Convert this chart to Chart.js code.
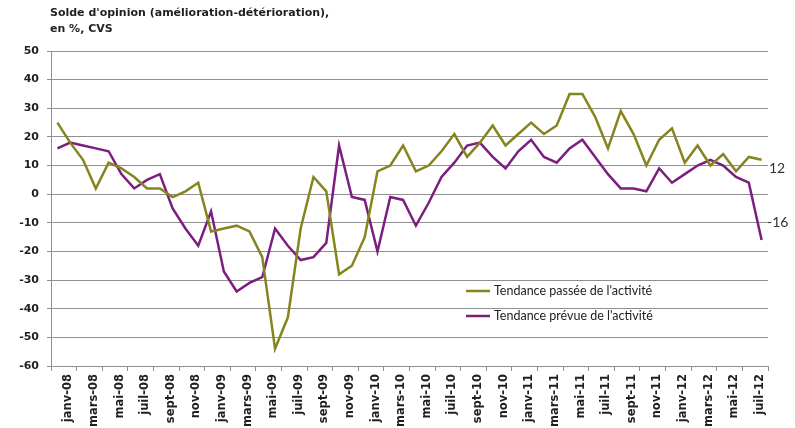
<!DOCTYPE html>
<html>
<head>
<meta charset="utf-8">
<script src="https://cdn.jsdelivr.net/npm/chart.js@4.4.0/dist/chart.umd.min.js"></script>
<style>
  html, body { margin: 0; padding: 0; background: #ffffff; }
  canvas { display: block; }
</style>
</head>
<body>
<canvas id="chart" width="795" height="428"></canvas>
<script>
// Monthly survey balances, janv-08 to août-12
const mois = [
  "janv-08", "févr-08", "mars-08", "avr-08", "mai-08", "juin-08", "juil-08", "août-08", "sept-08", "oct-08", "nov-08", "déc-08",
  "janv-09", "févr-09", "mars-09", "avr-09", "mai-09", "juin-09", "juil-09", "août-09", "sept-09", "oct-09", "nov-09", "déc-09",
  "janv-10", "févr-10", "mars-10", "avr-10", "mai-10", "juin-10", "juil-10", "août-10", "sept-10", "oct-10", "nov-10", "déc-10",
  "janv-11", "févr-11", "mars-11", "avr-11", "mai-11", "juin-11", "juil-11", "août-11", "sept-11", "oct-11", "nov-11", "déc-11",
  "janv-12", "févr-12", "mars-12", "avr-12", "mai-12", "juin-12", "juil-12", "août-12"
];

const tendancePassee = [
  25, 18, 12, 2, 11, 9, 6, 2, 2, -1, 1, 4,
  -13, -12, -11, -13, -22, -54, -43, -12, 6, 1, -28, -25,
  -15, 8, 10, 17, 8, 10, 15, 21, 13, 18, 24, 17,
  21, 25, 21, 24, 35, 35, 27, 16, 29, 21, 10, 19,
  23, 11, 17, 10, 14, 8, 13, 12
];

const tendancePrevue = [
  16, 18, 17, 16, 15, 7, 2, 5, 7, -5, -12, -18,
  -6, -27, -34, -31, -29, -12, -18, -23, -22, -17, 17, -1,
  -2, -20, -1, -2, -11, -3, 6, 11, 17, 18, 13, 9,
  15, 19, 13, 11, 16, 19, 13, 7, 2, 2, 1, 9,
  4, 7, 10, 12, 10, 6, 4, -16
];

const nomsSeries = ["Tendance passée de l'activité", "Tendance prévue de l'activité"];
const titre = ["Solde d'opinion (amélioration-détérioration),", "en %, CVS"];
const yMin = -60, yMax = 50, yPas = 10;

const OLIVE = '#85841f';
const VIOLET = '#7b1e7f';
const GRILLE = '#8f8f8f';
const TEXTE = '#1f1f1f';

// Title, in-plot legend and end-of-line value labels
const habillage = {
  id: 'habillage',
  afterDraw(chart) {
    const { ctx, chartArea } = chart;
    ctx.save();

    ctx.fillStyle = TEXTE;
    ctx.font = 'bold 11px "DejaVu Sans", sans-serif';
    ctx.textAlign = 'left';
    ctx.textBaseline = 'alphabetic';
    ctx.fillText(titre[0], 50, 16);
    ctx.fillText(titre[1], 50, 32);

    const entrees = [
      { label: nomsSeries[0], color: OLIVE },
      { label: nomsSeries[1], color: VIOLET }
    ];
    ctx.font = '12.5px Lato, "Open Sans", sans-serif';
    ctx.textBaseline = 'middle';
    entrees.forEach((e, k) => {
      const y = 291 + 25 * k;
      ctx.strokeStyle = e.color;
      ctx.lineWidth = 2.5;
      ctx.beginPath();
      ctx.moveTo(466, y);
      ctx.lineTo(490, y);
      ctx.stroke();
      ctx.fillStyle = '#222222';
      ctx.fillText(e.label, 494, y);
    });

    ctx.font = '14px Lato, "Open Sans", sans-serif';
    ctx.fillStyle = '#333333';
    ctx.fillText(String(tendancePassee[tendancePassee.length - 1]), chartArea.right + 1, 168);
    ctx.fillText(String(tendancePrevue[tendancePrevue.length - 1]), chartArea.right - 1, 222);

    ctx.restore();
  }
};

new Chart(document.getElementById('chart'), {
  type: 'line',
  data: {
    labels: mois,
    datasets: [
      { label: nomsSeries[0], data: tendancePassee, borderColor: OLIVE, backgroundColor: OLIVE,
        borderWidth: 2.5, pointRadius: 0, tension: 0, fill: false },
      { label: nomsSeries[1], data: tendancePrevue, borderColor: VIOLET, backgroundColor: VIOLET,
        borderWidth: 2.5, pointRadius: 0, tension: 0, fill: false }
    ]
  },
  options: {
    responsive: false,
    animation: false,
    devicePixelRatio: 1,
    layout: { padding: { top: 51, right: 27, bottom: 0, left: 0 } },
    plugins: {
      legend: { display: false },
      tooltip: { enabled: false }
    },
    scales: {
      x: {
        type: 'category',
        offset: true,
        grid: {
          offset: true,
          drawOnChartArea: false,
          drawTicks: true,
          tickLength: 5,
          lineWidth: 1,
          color: (c) => (c.index === undefined || c.index % 2 === 0) ? GRILLE : 'rgba(0,0,0,0)'
        },
        border: { display: true, color: GRILLE, width: 1 },
        ticks: {
          autoSkip: false,
          maxRotation: 90,
          minRotation: 90,
          labelOffset: 11,
          padding: 3,
          color: TEXTE,
          font: { family: '"DejaVu Sans", sans-serif', weight: 'bold', size: 11.5 },
          callback(value, index) {
            return index % 2 === 0 ? this.getLabelForValue(value) : '';
          }
        },
        afterFit(scale) { scale.height = 62; }
      },
      y: {
        min: yMin,
        max: yMax,
        ticks: {
          stepSize: yPas,
          padding: 8,
          color: TEXTE,
          font: { family: '"DejaVu Sans", sans-serif', weight: 'bold', size: 11 }
        },
        grid: { color: GRILLE, lineWidth: 1, tickLength: 4, drawTicks: true },
        border: { display: true, color: GRILLE, width: 1 },
        afterFit(scale) { scale.width = 51; }
      }
    }
  },
  plugins: [habillage]
});
</script>
</body>
</html>
